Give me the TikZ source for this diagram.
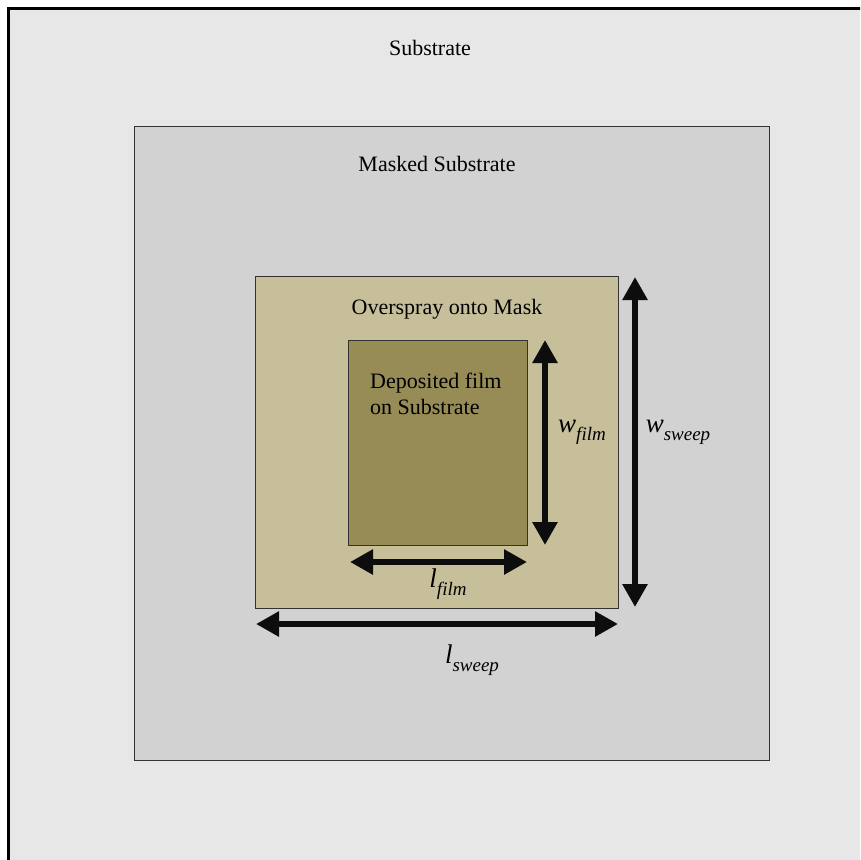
\documentclass[tikz,border=0pt]{standalone}
\usepackage{fontspec}
\setmainfont{Liberation Serif}
\usetikzlibrary{arrows.meta,positioning}
\definecolor{Cbase}{HTML}{E7E7E7}
\definecolor{Cmask}{HTML}{D2D2D2}
\definecolor{Cspray}{HTML}{C6BF99}
\definecolor{Cfilm}{HTML}{978C55}

\newcommand{\dimlab}[2]{{\fontsize{27}{28}\selectfont\itshape #1\raisebox{-0.3em}{\fontsize{19}{20}\selectfont #2}}}

\begin{document}
\begin{tikzpicture}[
  x=1pt, y=-1pt,
  region/.style={draw=black!80, line width=0.8pt, inner sep=0pt, anchor=north west},
  lab/.style={font=\fontsize{22}{26}\selectfont, inner sep=0pt},
  dim/.style={line width=6pt, {Triangle[length=23pt,width=24pt]}-{Triangle[length=23pt,width=24pt]}, black!95},
]
\clip (0,0) rectangle (860,860);

% substrate, runs past the page on the right and bottom
\draw[fill=Cbase, line width=3pt] (8.5,8.5) rectangle (900,900);

% nested regions
\node[region, fill=Cmask, minimum width=635pt, minimum height=634pt] (mask) at (134,126) {};
\node[region, fill=Cspray, minimum width=363pt, minimum height=332pt] (spray) at (255,276) {};
\node[region, fill=Cfilm, minimum width=179pt, minimum height=205pt] (film) at (348,340) {};

% region labels
\node[lab] (tsub) at (430,48) {Substrate};
\node[lab] (tmask) at (437,164) {Masked Substrate};
\node[lab] (tspray) at (447,309) {Overspray onto Mask};
\node[lab, align=left, anchor=north west] (tfilm) at (370,373) {Deposited film\\on Substrate};

% dimension arrow ends
\coordinate (wf1) at (545,340); \coordinate (wf2) at (545,545);
\coordinate (ws1) at (635,277); \coordinate (ws2) at (635,607);
\coordinate (lf1) at (350,562); \coordinate (lf2) at (527,562);
\coordinate (ls1) at (256,624); \coordinate (ls2) at (618,624);

\draw[dim] (wf1) -- (wf2);
\draw[dim] (ws1) -- (ws2);
\draw[dim] (lf1) -- (lf2);
\draw[dim] (ls1) -- (ls2);

% dimension labels
\node[inner sep=0pt] (twf) at (582,432) {\dimlab{w}{film}};
\node[inner sep=0pt] (tws) at (678,432) {\dimlab{w}{sweep}};
\node[inner sep=0pt] (tlf) at (448,584) {\dimlab{l}{film}};
\node[inner sep=0pt] (tls) at (472,660) {\dimlab{l}{sweep}};
\end{tikzpicture}
\end{document}
